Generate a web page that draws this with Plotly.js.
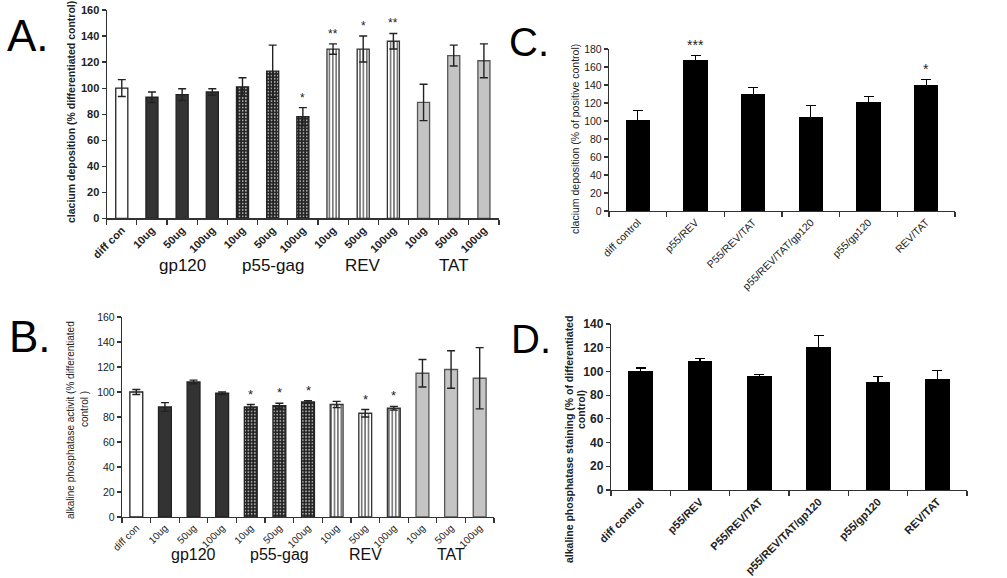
<!DOCTYPE html>
<html><head><meta charset="utf-8">
<script src="https://cdn.plot.ly/plotly-3.0.1.min.js"></script>
<style>html,body{margin:0;padding:0;background:#fff}#chart{width:1007px;height:578px}</style>
</head><body><div id="chart"></div>
<script>
// ---------- data ----------
const labelsAB = ["diff con","10ug","50ug","100ug","10ug","50ug","100ug","10ug","50ug","100ug","10ug","50ug","100ug"];
const groupOf = ["control","gp120","gp120","gp120","p55-gag","p55-gag","p55-gag","REV","REV","REV","TAT","TAT","TAT"];
const groupNames = ["gp120","p55-gag","REV","TAT"];
const calciumA = [100,93,95,97,101,113,78,130,130,136,89,125,121];
const calciumErrA = [6.5,4,4.5,2.5,7,20,7,4,10,6,14,8,13];
const starsA = ["","","","","","","*","**","*","**","","",""];
const alpB = [100,88,108,99,88,89,92,90,83,87,115,118,111];
const alpErrB = [2,3.5,1.5,1,2,2,1,2.5,3,1.5,11,15,24.5];
const starsB = ["","","","","*","*","*","","*","*","","",""];
const labelsCD = ["diff control","p55/REV","P55/REV/TAT","p55/REV/TAT/gp120","p55/gp120","REV/TAT"];
const calciumC = [101,168,130,105,121,140];
const calciumErrC = [11,4.5,7.5,12,6,6];
const starsC = ["","***","","","","*"];
const alpD = [100,109,96,121,91,94];
const alpErrD = [2.8,2,1.2,9.6,5,6.5];

// ---------- styles ----------
const F = "Liberation Sans, Arial, sans-serif";
const W = 1007, H = 578;
const px = v => v / W, py = v => 1 - v / H;
const styles = {
  "control": {color:"#ffffff", line:"#222"},
  "gp120": {color:"#333333", line:"#222"},
  "p55-gag": {color:"#222222", line:"#222", pattern:{shape:".", fgcolor:"#b0b0b0", bgcolor:"#222222", size:3.2, solidity:0.25}},
  "REV": {color:"#ffffff", line:"#333", pattern:{shape:"|", fgcolor:"#222", bgcolor:"#ffffff", size:3.4, solidity:0.3}},
  "TAT": {color:"#c4c4c4", line:"#555"}
};

const traces = [];
function groupedBars(vals, errs, xa, ya, width) {
  const groups = ["control","gp120","p55-gag","REV","TAT"];
  groups.forEach(g => {
    const xs=[], ys=[], es=[];
    vals.forEach((v,i)=>{ if(groupOf[i]===g){ xs.push(i); ys.push(v); es.push(errs[i]); } });
    const st = styles[g];
    const m = {color: st.color, line:{color: st.line, width:1.3}};
    if (st.pattern) m.pattern = st.pattern;
    traces.push({type:"bar", x:xs, y:ys, xaxis:xa, yaxis:ya, width:width, marker:m,
      error_y:{type:"data", array:es, visible:true, color:"#222", thickness:1.4, width:4},
      showlegend:false, hoverinfo:"x+y"});
  });
}
groupedBars(calciumA, calciumErrA, "x", "y", 0.4);
groupedBars(alpB, alpErrB, "x2", "y2", 0.45);
traces.push({type:"bar", x:labelsCD.map((_,i)=>i), y:calciumC, xaxis:"x3", yaxis:"y3", width:0.42,
  marker:{color:"#000"}, error_y:{type:"data", array:calciumErrC, color:"#000", thickness:1.3, width:5}, showlegend:false});
traces.push({type:"bar", x:labelsCD.map((_,i)=>i), y:alpD, xaxis:"x4", yaxis:"y4", width:0.42,
  marker:{color:"#000"}, error_y:{type:"data", array:alpErrD, color:"#000", thickness:1.3, width:5}, showlegend:false});

function xAxis(n, labels, dom, anchor, font) {
  return {domain:dom, anchor:anchor, range:[-0.5, n-0.5], tickmode:"array",
    tickvals:labels.map((_,i)=>i), ticktext:labels, tickangle:-45, ticks:"",
    tickfont:font, showline:true, linecolor:"#333", linewidth:1.2, showgrid:false, zeroline:false,
    minor:{tickmode:"linear", tick0:0.5, dtick:1, ticks:"outside", ticklen:5, tickcolor:"#333", tickwidth:1.2, showgrid:false},
    fixedrange:true};
}
function yAxis(range, dtick, dom, anchor, font) {
  return {domain:dom, anchor:anchor, range:range, dtick:dtick, ticks:"outside", ticklen:4,
    tickcolor:"#333", tickwidth:1.2, showline:true, linecolor:"#333", linewidth:1.2,
    showgrid:false, zeroline:false, tickfont:font, fixedrange:true};
}
const boldFont = s => ({family:F, size:s, color:"#222", weight:"bold"});
const regFont = s => ({family:F, size:s, color:"#222"});

const layout = {
  width:W, height:H, margin:{l:0,r:0,t:0,b:0}, paper_bgcolor:"#fff", plot_bgcolor:"#fff",
  bargap:0, showlegend:false, font:{family:F},
  xaxis: xAxis(13, labelsAB, [px(106.7), px(499)], "y", boldFont(11)),
  yaxis: yAxis([0,160], 20, [py(218.3), py(10)], "x", boldFont(11)),
  xaxis2: xAxis(13, labelsAB, [px(122), px(494)], "y2", regFont(10)),
  yaxis2: yAxis([0,160], 20, [py(517), py(317)], "x2", regFont(10.5)),
  xaxis3: xAxis(6, labelsCD, [px(609), px(955)], "y3", regFont(10.5)),
  yaxis3: yAxis([0,180], 20, [py(211), py(49)], "x3", regFont(10.5)),
  xaxis4: xAxis(6, labelsCD, [px(611), px(967)], "y4", boldFont(11)),
  yaxis4: yAxis([0,140], 20, [py(490), py(324)], "x4", boldFont(12)),
  annotations: []
};

const ann = layout.annotations;
function starAnn(stars, vals, errs, xr, yr, size) {
  stars.forEach((s,i)=>{ if(s) ann.push({xref:xr, yref:yr, x:i, y:vals[i]+errs[i], text:s,
    showarrow:false, yanchor:"bottom", yshift:1, font:{family:F, size:size, color:"#222"}}); });
}
starAnn(starsA, calciumA, calciumErrA, "x", "y", 12);
starAnn(starsB, alpB, alpErrB, "x2", "y2", 13);
starAnn(starsC, calciumC, calciumErrC, "x3", "y3", 14);

groupNames.forEach((g,k)=>{
  const c = 3*k + 2;
  ann.push({xref:"x", yref:"paper", x:c, y:py(266), text:g, showarrow:false, font:{family:F, size:17, color:"#111"}});
  ann.push({xref:"x2", yref:"paper", x:c, y:py(565), text:g, showarrow:false, font:{family:F, size:16, color:"#111"}});
});

// axis titles
function vtitle(x, y, text, font) {
  ann.push({xref:"paper", yref:"paper", x:px(x), y:py(y), text:text, textangle:-90, showarrow:false,
    xanchor:"center", yanchor:"middle", font:font});
}
vtitle(71, 112, "clacium deposition (% differentiated control)", boldFont(10.5));
vtitle(70, 420, "alkaline phosphatase activit (% differentiated", regFont(10));
vtitle(84, 409, "control )", regFont(10));
vtitle(575, 139, "clacium deposition (% of positive control)", regFont(10.5));
vtitle(569, 440, "alkaline phosphatase staining (% of differentiated", boldFont(10.5));
vtitle(581, 410, "control)", boldFont(10.5));

// panel letters
function letter(t, x, y, s) {
  ann.push({xref:"paper", yref:"paper", x:px(x), y:py(y), text:t, showarrow:false, xanchor:"left", yanchor:"middle",
    font:{family:F, size:s, color:"#000"}});
}
letter("A.", 5, 36, 44);
letter("B.", 7, 336, 44);
letter("C.", 507, 42, 40);
letter("D.", 509, 339, 40);

Plotly.newPlot("chart", traces, layout, {staticPlot:true, displayModeBar:false});
</script></body></html>
